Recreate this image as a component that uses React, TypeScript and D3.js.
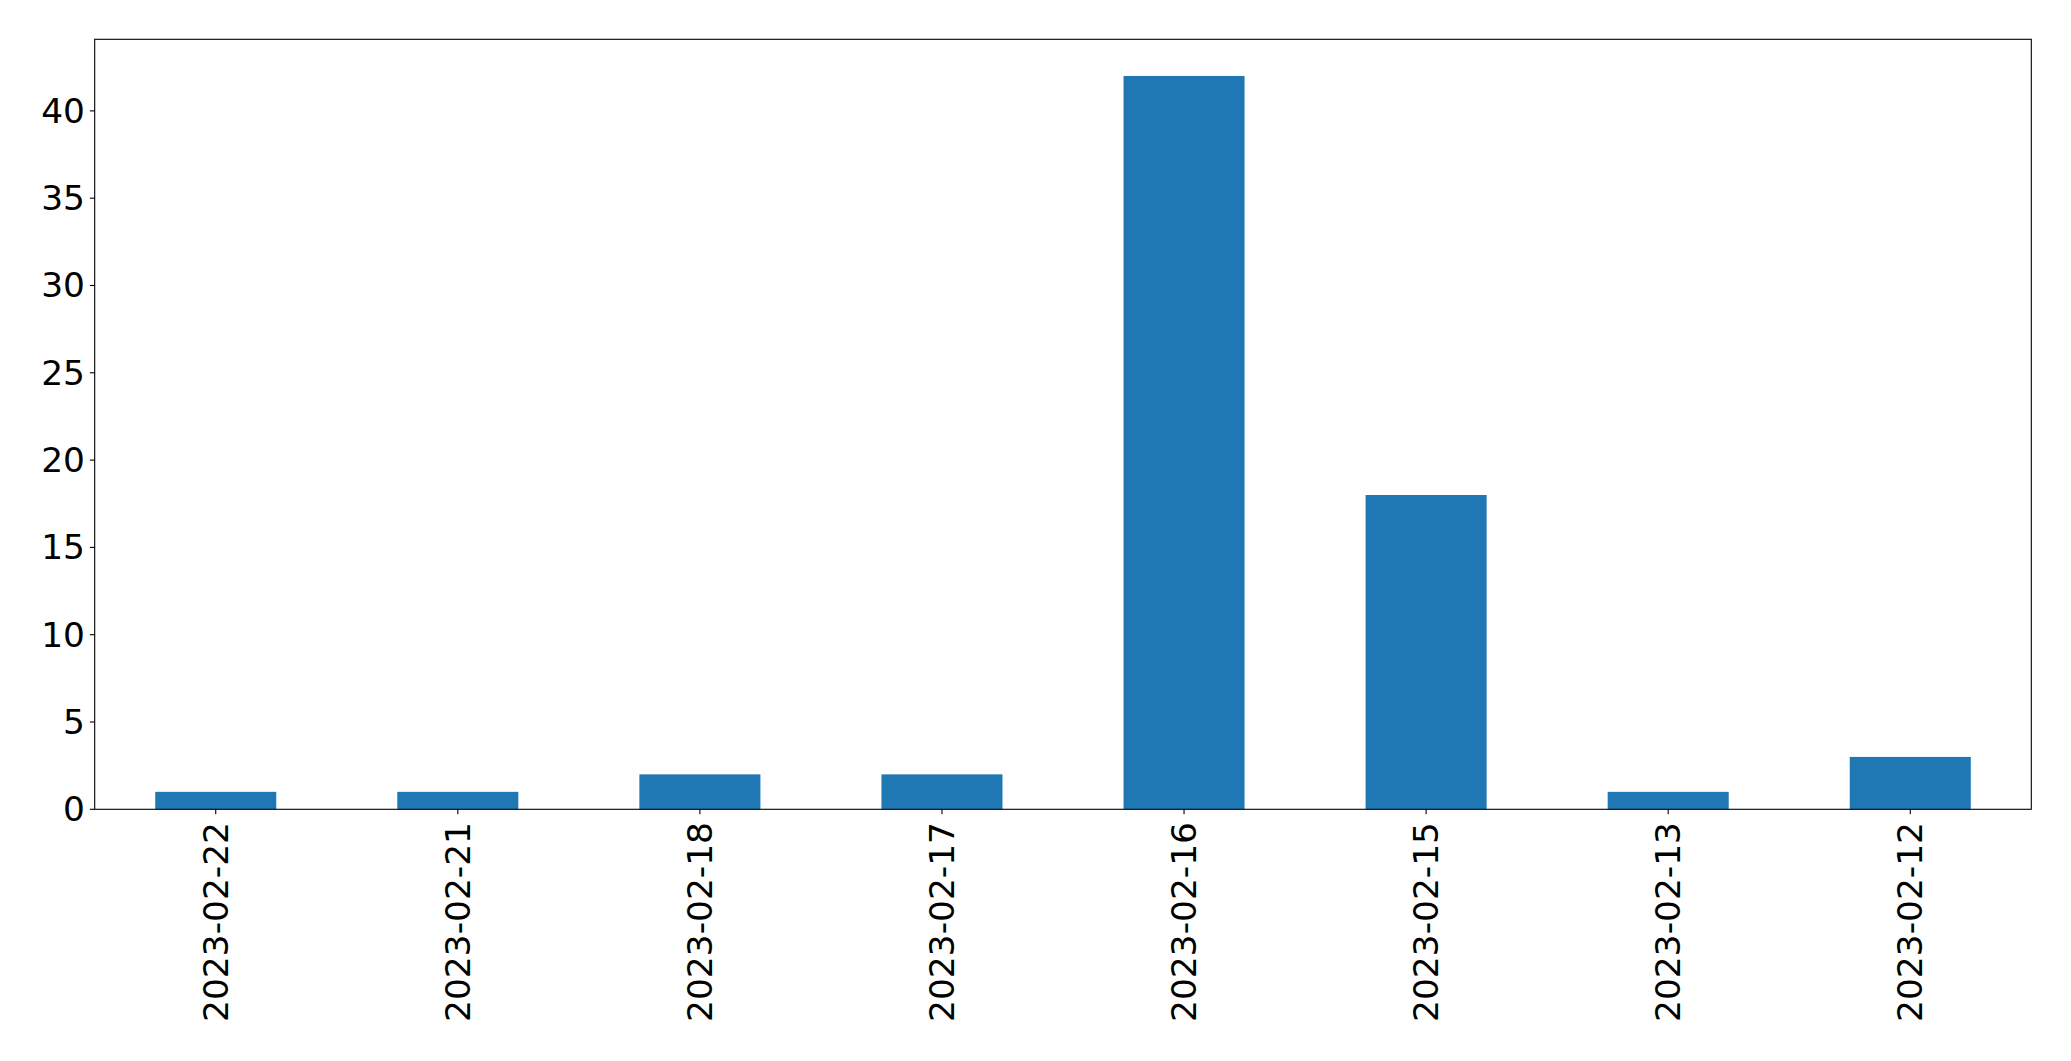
import React from "react";
import * as d3 from "d3";

const categories: string[] = [
  "2023-02-22",
  "2023-02-21",
  "2023-02-18",
  "2023-02-17",
  "2023-02-16",
  "2023-02-15",
  "2023-02-13",
  "2023-02-12",
];
const counts: number[] = [1, 1, 2, 2, 42, 18, 1, 3];
const yTicks: number[] = [0, 5, 10, 15, 20, 25, 30, 35, 40];

const W = 2071;
const H = 1061;
const M = { left: 94.7, right: 2031.3, top: 39.3, bottom: 809.3 };
const FONT = "'DejaVu Sans', sans-serif";
const FS = 34.4;
const TICK = 4.86;
const PAD = 4.86;

export default function App() {
  const n = categories.length;
  const x = d3.scaleLinear().domain([-0.5, n - 0.5]).range([M.left, M.right]);
  const yMax = d3.max(counts)! * 1.05;
  const y = d3.scaleLinear().domain([0, yMax]).range([M.bottom, M.top]);
  const bw = x(0.25) - x(-0.25);

  return (
    <svg
      width={W}
      height={H}
      style={{ position: "absolute", left: 0, top: 0, background: "#fff" }}
    >
      <rect x={0} y={0} width={W} height={H} fill="#fff" />
      {counts.map((v, i) => (
        <rect
          key={i}
          x={x(i) - bw / 2}
          y={y(v)}
          width={bw}
          height={y(0) - y(v)}
          fill="#1f77b4"
        />
      ))}
      {yTicks.map((t) => (
        <g key={t}>
          <line x1={M.left - TICK} x2={M.left} y1={y(t)} y2={y(t)} stroke="#000" strokeWidth={1.1} />
          <text
            x={M.left - TICK - PAD}
            y={y(t)}
            textAnchor="end"
            dominantBaseline="central"
            fontFamily={FONT}
            fontSize={FS}
            fill="#000"
          >
            {t}
          </text>
        </g>
      ))}
      {categories.map((c, i) => (
        <g key={c}>
          <line x1={x(i)} x2={x(i)} y1={M.bottom} y2={M.bottom + TICK} stroke="#000" strokeWidth={1.1} />
          <text
            transform={`translate(${x(i)},${M.bottom + TICK + PAD + 3}) rotate(-90)`}
            textAnchor="end"
            dominantBaseline="central"
            fontFamily={FONT}
            fontSize={FS}
            fill="#000"
          >
            {c}
          </text>
        </g>
      ))}
      <rect
        x={M.left}
        y={M.top}
        width={M.right - M.left}
        height={M.bottom - M.top}
        fill="none"
        stroke="#000"
        strokeWidth={1.1}
      />
    </svg>
  );
}
